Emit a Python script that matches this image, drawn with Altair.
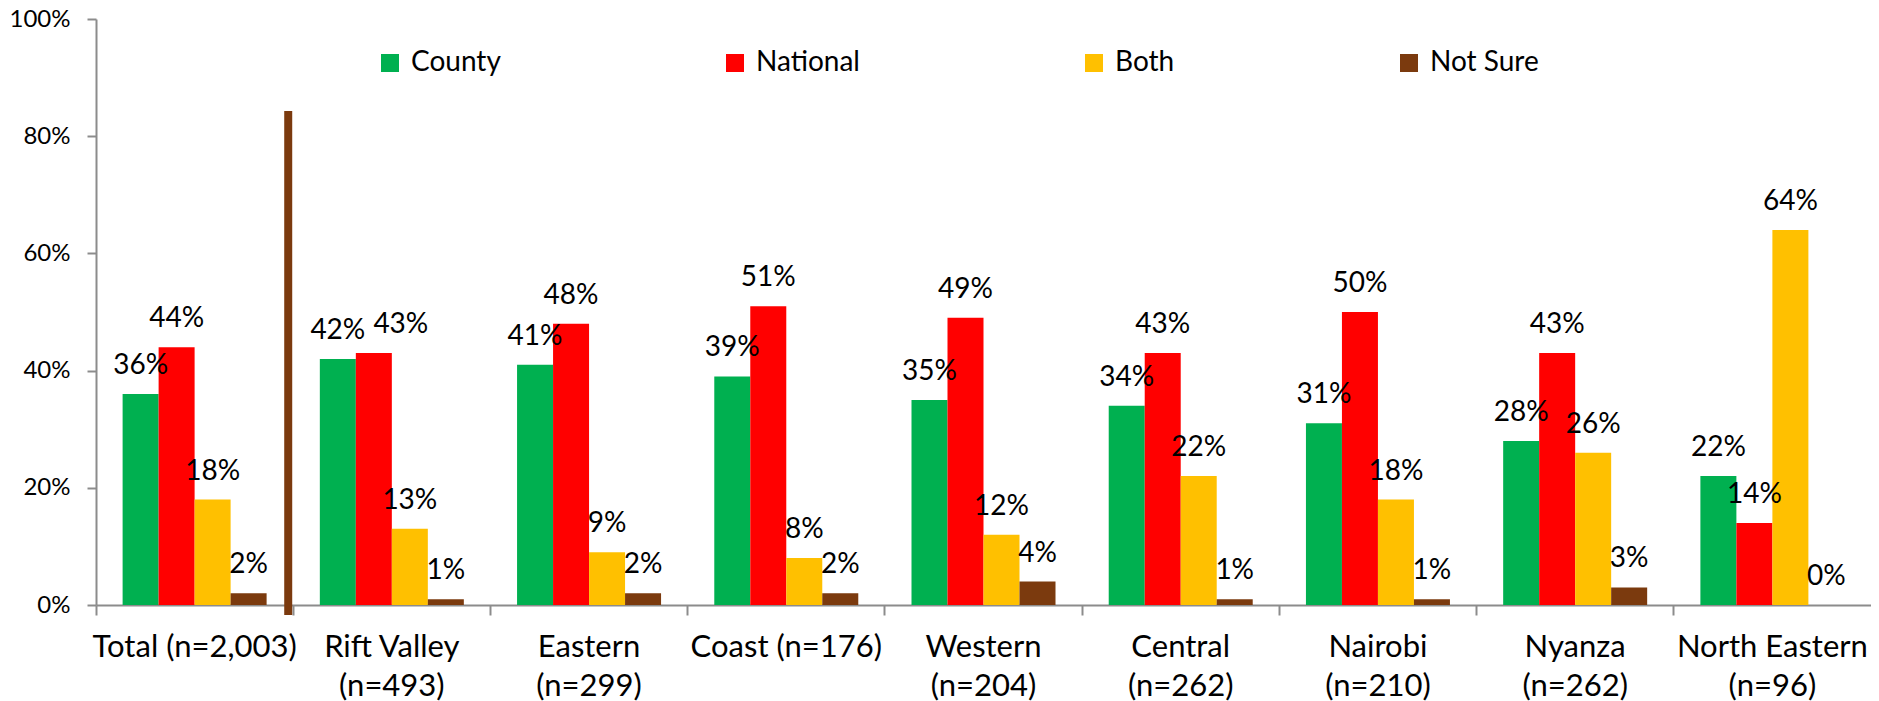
import altair as alt
import pandas as pd

# ---- data ----
regions = [
    "Total (n=2,003)",
    "Rift Valley|(n=493)",
    "Eastern|(n=299)",
    "Coast (n=176)",
    "Western|(n=204)",
    "Central|(n=262)",
    "Nairobi|(n=210)",
    "Nyanza|(n=262)",
    "North Eastern|(n=96)",
]
series = ["County", "National", "Both", "Not Sure"]
county = [36, 42, 41, 39, 35, 34, 31, 28, 22]
national = [44, 43, 48, 51, 49, 43, 50, 43, 14]
both = [18, 13, 9, 8, 12, 22, 18, 26, 64]
not_sure = [2, 1, 2, 2, 4, 1, 1, 3, 0]
colors = ["#00B050", "#FF0000", "#FFC000", "#7B3A0E"]
y_ticks = [0, 0.2, 0.4, 0.6, 0.8, 1.0]

# separator drawn between "Total" and the regions
divider_region = ["Rift Valley|(n=493)"]
divider_top = [0.843]
divider_bottom = [-0.017]

# the one data label that is nudged sideways in the reference
nudged_region = "Rift Valley|(n=493)"
nudged_series = "National"

values_by_series = {"County": county, "National": national, "Both": both, "Not Sure": not_sure}
rows = []
for s in series:
    for r, v in zip(regions, values_by_series[s]):
        rows.append({"region": r, "series": s, "value": v / 100.0, "label": f"{v}%",
                     "nudge": (r == nudged_region and s == nudged_series)})
df = pd.DataFrame(rows)
div_df = pd.DataFrame({"region": divider_region, "top": divider_top, "bottom": divider_bottom})

FONT = "Lato"
AXIS_GRAY = "#8C8C8C"
PLOT_W = 1775
BAND = PLOT_W / len(regions)
BAR_W = 36.0
p_outer = (BAND / BAR_W - len(series)) / 2.0

yscale = alt.Scale(domain=[0, 1])
xscale = alt.Scale(paddingInner=0, paddingOuter=0)

x_enc = alt.X(
    "region:N",
    sort=regions,
    scale=xscale,
    title=None,
    axis=alt.Axis(
        labelAngle=0,
        labelExpr="split(datum.value, '|')",
        bandPosition=0,
        labelFontSize=31,
        labelLineHeight=39,
        labelPadding=17,
        labelLimit=0,
        tickSize=10,
        labelBound=False,
        labelOverlap=False,
    ),
)
xoff = alt.XOffset("series:N", sort=series,
                   scale=alt.Scale(paddingInner=0, paddingOuter=p_outer))

bars = alt.Chart(df).mark_bar().encode(
    x=x_enc,
    xOffset=xoff,
    y=alt.Y(
        "value:Q",
        scale=yscale,
        title=None,
        axis=alt.Axis(
            values=y_ticks,
            format=".0%",
            grid=False,
            labelFontSize=24,
            labelPadding=17,
            tickSize=9,
        ),
    ),
    color=alt.Color(
        "series:N",
        sort=series,
        scale=alt.Scale(domain=series, range=colors),
        legend=alt.Legend(
            title=None,
            orient="none",
            legendX=280,
            legendY=30,
            direction="horizontal",
            columns=4,
            symbolType="square",
            symbolSize=324,
            symbolStrokeWidth=0,
            symbolOpacity=1,
            labelFont=FONT,
            labelFontSize=28,
            labelColor="black",
            labelOffset=7,
            columnPadding=220,
            padding=0,
        ),
    ),
)

label_enc = dict(
    x=alt.X("region:N", sort=regions, scale=xscale, title=None),
    xOffset=xoff,
    y=alt.Y("value:Q", scale=yscale, title=None),
    text="label:N",
)
text_style = dict(baseline="alphabetic", align="center", font=FONT, fontSize=28, color="black")

labels = (
    alt.Chart(df)
    .transform_filter("!datum.nudge")
    .mark_text(dy=-20, **text_style)
    .encode(**label_enc)
)
labels_nudged = (
    alt.Chart(df)
    .transform_filter("datum.nudge")
    .mark_text(dy=-20, dx=27, **text_style)
    .encode(**label_enc)
)

divider = alt.Chart(div_df).mark_rule(color="#7B3A0E", strokeWidth=8, xOffset=-5).encode(
    x=alt.X("region:N", sort=regions, bandPosition=0, scale=xscale, title=None),
    y=alt.Y("top:Q", scale=yscale, title=None),
    y2="bottom:Q",
)

chart = (
    alt.layer(bars, labels, labels_nudged, divider)
    .properties(
        width=PLOT_W,
        height=586,
        padding={"left": 1, "top": -1, "right": 0, "bottom": 0},
    )
    .configure(font=FONT)
    .configure_axis(
        labelFont=FONT,
        labelColor="black",
        tickColor=AXIS_GRAY,
        tickWidth=2,
        domainColor=AXIS_GRAY,
        domainWidth=2,
        grid=False,
    )
    .configure_view(stroke=None)
)

chart.save("out.html", embed_options={"renderer": "svg", "actions": False})
